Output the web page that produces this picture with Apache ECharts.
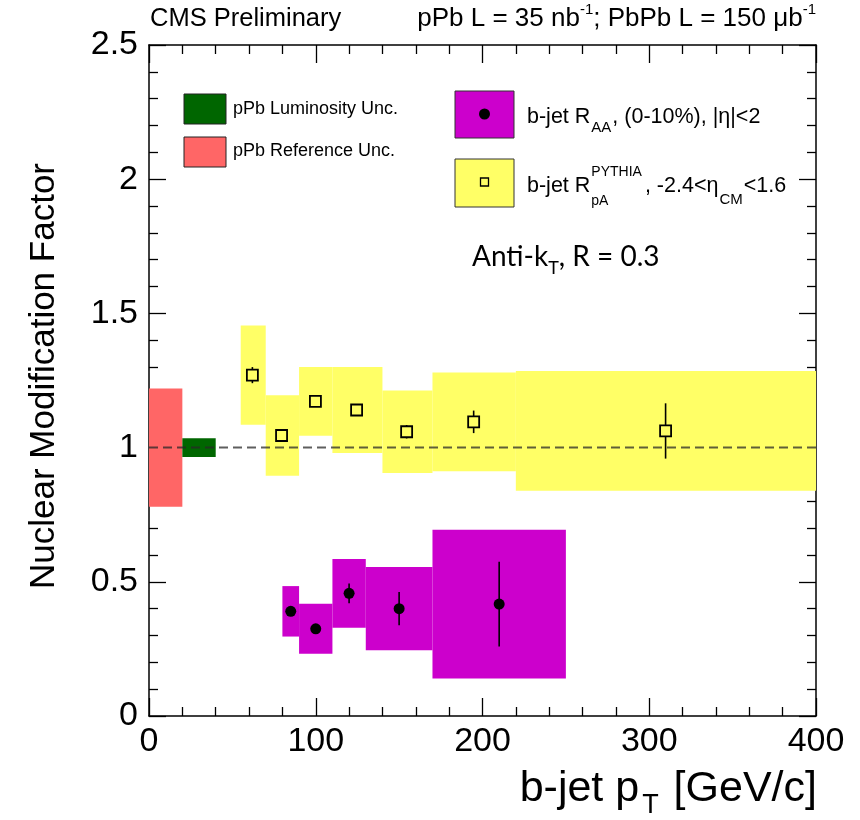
<!DOCTYPE html>
<html>
<head>
<meta charset="utf-8">
<script src="https://cdn.jsdelivr.net/npm/echarts@6/dist/echarts.min.js"></script>
<style>
  html, body { margin: 0; padding: 0; background: #ffffff; }
  #chart { width: 860px; height: 820px; }
</style>
</head>
<body>
<div id="chart"></div>
<script>
// ---- tick labels ----
const xTickLabels = ['0', '100', '200', '300', '400'];
const yTickLabels = ['0', '0.5', '1', '1.5', '2', '2.5'];

// ---- PbPb b-jet R_AA, 0-10% centrality ----
const raaBinLow  = [80, 90, 110, 130, 170];
const raaBinHigh = [90, 110, 130, 170, 250];
const raaPt      = [85, 100, 120, 150, 210];
const raaValue   = [0.390, 0.325, 0.457, 0.400, 0.417];
const raaStat    = [0.012, 0.012, 0.037, 0.062, 0.158];
const raaSyst    = [0.094, 0.093, 0.128, 0.155, 0.277];

// ---- pPb b-jet R_pA (PYTHIA reference) ----
const rpaBinLow  = [55, 70, 90, 110, 140, 170, 220];
const rpaBinHigh = [70, 90, 110, 140, 170, 220, 400];
const rpaPt      = [62, 79.5, 99.8, 124.5, 154.5, 194.7, 309.8];
const rpaValue   = [1.270, 1.045, 1.172, 1.140, 1.059, 1.096, 1.062];
const rpaStat    = [0.030, 0.010, 0.010, 0.010, 0.025, 0.042, 0.103];
const rpaSyst    = [0.185, 0.150, 0.128, 0.160, 0.154, 0.184, 0.223];

// ---- global uncertainties, drawn around unity ----
const refBin  = [0, 20];
const refUnc  = 0.22;
const lumiBin = [20, 40];
const lumiUnc = 0.035;
const unity   = 1;
const xRange  = [0, 400];
const yRange  = [0, 2.5];

const FONT = '"Liberation Sans", Arial, Helvetica, sans-serif';
const COL_RAA = '#cc00cc';
const COL_RPA = '#ffff66';
const COL_REF = '#ff6666';
const COL_LUMI = '#006600';

// rectangles spanning [x0, x1] x [y0, y1]
function boxSeries(name, rows, color) {
  return {
    type: 'custom', name: name, silent: true, animation: false,
    data: rows,
    encode: { x: [0, 1], y: [2, 3] },
    renderItem: function (params, api) {
      const a = api.coord([api.value(0), api.value(2)]);
      const b = api.coord([api.value(1), api.value(3)]);
      return {
        type: 'rect',
        shape: { x: a[0], y: b[1], width: b[0] - a[0], height: a[1] - b[1] },
        style: { fill: color, stroke: null, lineWidth: 0 }
      };
    }
  };
}

// data points with vertical statistical error bars
function pointSeries(name, pt, val, stat, marker) {
  return {
    type: 'custom', name: name, silent: true, animation: false,
    data: pt.map((x, i) => [x, val[i], val[i] - stat[i], val[i] + stat[i]]),
    encode: { x: 0, y: [1, 2, 3] },
    renderItem: function (params, api) {
      const c = api.coord([api.value(0), api.value(1)]);
      const lo = api.coord([api.value(0), api.value(2)]);
      const hi = api.coord([api.value(0), api.value(3)]);
      const kids = [];
      const bar = { stroke: '#000', lineWidth: 1.6, fill: null };
      if (marker === 'circle') {
        kids.push({ type: 'line', shape: { x1: c[0], y1: hi[1], x2: c[0], y2: lo[1] }, style: bar });
        kids.push({ type: 'circle', shape: { cx: c[0], cy: c[1], r: 5.5 }, style: { fill: '#000', stroke: null } });
      } else {
        const h = 5.5;
        if (hi[1] < c[1] - h) kids.push({ type: 'line', shape: { x1: c[0], y1: hi[1], x2: c[0], y2: c[1] - h }, style: bar });
        if (lo[1] > c[1] + h) kids.push({ type: 'line', shape: { x1: c[0], y1: c[1] + h, x2: c[0], y2: lo[1] }, style: bar });
        kids.push({ type: 'rect', shape: { x: c[0] - h, y: c[1] - h, width: 2 * h, height: 2 * h },
                    style: { fill: null, stroke: '#000', lineWidth: 1.8 } });
      }
      return { type: 'group', children: kids };
    }
  };
}

// dashed reference line at unity
const unitySeries = {
  type: 'custom', name: 'unity', silent: true, animation: false,
  data: [[xRange[0], xRange[1], unity]],
  encode: { x: [0, 1], y: 2 },
  renderItem: function (params, api) {
    const a = api.coord([api.value(0), api.value(2)]);
    const b = api.coord([api.value(1), api.value(2)]);
    return {
      type: 'line',
      shape: { x1: a[0], y1: a[1], x2: b[0], y2: b[1] },
      style: { stroke: 'rgba(40,40,40,0.75)', lineWidth: 2, lineDash: [9, 5], fill: null }
    };
  }
};

const axisLineStyle = { color: '#000', width: 1.5 };
const tickStyle = { color: '#000', width: 1.3 };

function xAxisDef(pos, showLabel) {
  return {
    type: 'value', position: pos, min: xRange[0], max: xRange[1], interval: 100,
    axisLine: { show: true, onZero: false, lineStyle: axisLineStyle },
    axisTick: { show: true, inside: true, length: 18, lineStyle: tickStyle },
    minorTick: { show: true, splitNumber: 5, length: 9, lineStyle: tickStyle },
    splitLine: { show: false },
    axisLabel: {
      show: showLabel, color: '#000', fontFamily: FONT, fontSize: 34, margin: 9,
      formatter: v => xTickLabels[Math.round(v / 100)]
    }
  };
}
function yAxisDef(pos, showLabel) {
  return {
    type: 'value', position: pos, min: yRange[0], max: yRange[1], interval: 0.5,
    axisLine: { show: true, onZero: false, lineStyle: axisLineStyle },
    axisTick: { show: true, inside: true, length: 17, lineStyle: tickStyle },
    minorTick: { show: true, splitNumber: 5, length: 9, lineStyle: tickStyle },
    splitLine: { show: false },
    axisLabel: {
      show: showLabel, color: '#000', fontFamily: FONT, fontSize: 34, margin: 11,
      formatter: v => yTickLabels[Math.round(v / 0.5)]
    }
  };
}

// width of a string in a given font, for placing stacked super/subscripts
function textWidth(str, font) {
  const ctx = document.createElement('canvas').getContext('2d');
  ctx.font = font;
  return ctx.measureText(str).width;
}

const legFont = 21.5;
const rpaLeadWidth = textWidth('b-jet R', legFont + 'px ' + FONT);

const graphics = [
  // header
  { type: 'text', x: 150, y: 19, style: { text: 'CMS Preliminary', font: '25.5px ' + FONT, fill: '#000', textVerticalAlign: 'middle' } },
  { type: 'text', x: 816, y: 19, style: {
      text: '{t|pPb L = 35 nb}{s|-1}{t|; PbPb L = 150 μb}{s|-1}',
      textAlign: 'right', textVerticalAlign: 'middle',
      rich: {
        t: { fontFamily: FONT, fontSize: 26, fill: '#000', lineHeight: 34 },
        s: { fontFamily: FONT, fontSize: 15, fill: '#000', lineHeight: 15, verticalAlign: 'top' }
      } } },

  // axis titles
  { type: 'text', x: 44, y: 376, rotation: Math.PI / 2, style: {
      text: 'Nuclear Modification Factor', font: '35px ' + FONT, fill: '#000',
      textAlign: 'center', textVerticalAlign: 'middle' } },
  { type: 'text', x: 817, y: 789, style: {
      text: '{t|b-jet p}{u|T}{t| [GeV/c]}',
      textAlign: 'right', textVerticalAlign: 'middle',
      rich: {
        t: { fontFamily: FONT, fontSize: 43, fill: '#000', lineHeight: 60 },
        u: { fontFamily: FONT, fontSize: 27, fill: '#000', lineHeight: 27, verticalAlign: 'bottom', padding: [0, 3, 0, 3] }
      } } },

  // global uncertainty legend
  { type: 'rect', shape: { x: 184, y: 94, width: 42, height: 30 }, style: { fill: COL_LUMI, stroke: '#222', lineWidth: 1 } },
  { type: 'text', x: 233, y: 109, style: { text: 'pPb Luminosity Unc.', font: '18px ' + FONT, fill: '#000', textVerticalAlign: 'middle' } },
  { type: 'rect', shape: { x: 184, y: 137, width: 42, height: 30 }, style: { fill: COL_REF, stroke: '#222', lineWidth: 1 } },
  { type: 'text', x: 233, y: 151, style: { text: 'pPb Reference Unc.', font: '18px ' + FONT, fill: '#000', textVerticalAlign: 'middle' } },

  // measurement legend
  { type: 'rect', shape: { x: 455, y: 91, width: 59, height: 47 }, style: { fill: COL_RAA, stroke: '#333', lineWidth: 1 } },
  { type: 'circle', shape: { cx: 484.5, cy: 114, r: 5.5 }, style: { fill: '#000' } },
  { type: 'text', x: 527, y: 117, style: {
      text: '{t|b-jet R}{d|AA}{t|, (0-10%), |η|<2}',
      textVerticalAlign: 'middle',
      rich: {
        t: { fontFamily: FONT, fontSize: legFont, fill: '#000', lineHeight: 36 },
        d: { fontFamily: FONT, fontSize: 15, fill: '#000', lineHeight: 15, verticalAlign: 'bottom', padding: [0, 1, 0, 1] }
      } } },
  { type: 'rect', shape: { x: 455, y: 159, width: 59, height: 48 }, style: { fill: COL_RPA, stroke: '#333', lineWidth: 1 } },
  { type: 'rect', shape: { x: 480.5, y: 178, width: 8, height: 8 }, style: { fill: null, stroke: '#000', lineWidth: 1.3 } },
  { type: 'text', x: 527, y: 186, style: {
      text: '{t|b-jet R}{p|PYTHIA}{t|, -2.4<η}{d|CM}{t|<1.6}',
      textVerticalAlign: 'middle',
      rich: {
        t: { fontFamily: FONT, fontSize: legFont, fill: '#000', lineHeight: 42 },
        p: { fontFamily: FONT, fontSize: 14, fill: '#000', lineHeight: 21, verticalAlign: 'top', padding: [0, 3, 0, 1] },
        d: { fontFamily: FONT, fontSize: 15, fill: '#000', lineHeight: 15, verticalAlign: 'bottom', padding: [0, 1, 0, 1] }
      } } },
  { type: 'text', x: 527 + rpaLeadWidth + 1, y: 201, style: {
      text: 'pA', font: '14px ' + FONT, fill: '#000', textVerticalAlign: 'middle' } },

  // jet algorithm
  { type: 'text', x: 472, y: 257, style: {
      text: '{t|Anti-k}{d|T}{t|, R = 0.3}',
      textVerticalAlign: 'middle',
      rich: {
        t: { fontFamily: 'Lato, "Open Sans", sans-serif', fontSize: 28, fill: '#000', lineHeight: 40 },
        d: { fontFamily: 'Lato, "Open Sans", sans-serif', fontSize: 18, fill: '#000', lineHeight: 22, verticalAlign: 'bottom' }
      } } }
];

const chart = echarts.init(document.getElementById('chart'), null, { renderer: 'canvas' });
chart.setOption({
  animation: false,
  backgroundColor: '#ffffff',
  grid: { left: 149, right: 44, top: 45, bottom: 104, containLabel: false },
  xAxis: [xAxisDef('bottom', true), xAxisDef('top', false)],
  yAxis: [yAxisDef('left', true), yAxisDef('right', false)],
  graphic: graphics,
  series: [
    boxSeries('pPb reference unc.', [[refBin[0], refBin[1], unity - refUnc, unity + refUnc]], COL_REF),
    boxSeries('pPb luminosity unc.', [[lumiBin[0], lumiBin[1], unity - lumiUnc, unity + lumiUnc]], COL_LUMI),
    boxSeries('R_pA syst', rpaBinLow.map((l, i) => [l, rpaBinHigh[i], rpaValue[i] - rpaSyst[i], rpaValue[i] + rpaSyst[i]]), COL_RPA),
    boxSeries('R_AA syst', raaBinLow.map((l, i) => [l, raaBinHigh[i], raaValue[i] - raaSyst[i], raaValue[i] + raaSyst[i]]), COL_RAA),
    unitySeries,
    pointSeries('R_pA', rpaPt, rpaValue, rpaStat, 'square'),
    pointSeries('R_AA', raaPt, raaValue, raaStat, 'circle')
  ]
});
</script>
</body>
</html>
